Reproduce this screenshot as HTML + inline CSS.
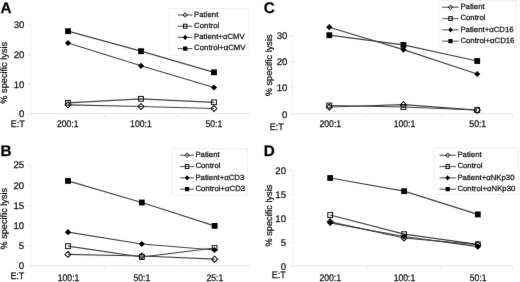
<!DOCTYPE html>
<html><head><meta charset="utf-8"><style>
html,body{margin:0;padding:0;background:#fff;width:520px;height:282px;overflow:hidden}
svg{display:block;font-family:"Liberation Sans", sans-serif;will-change:transform}
text{stroke:#111;stroke-width:0.25px;text-rendering:geometricPrecision}
</style></head><body>
<svg width="520" height="282" viewBox="0 0 520 282">
<defs><filter id="bl" x="0" y="0" width="520" height="282" filterUnits="userSpaceOnUse" color-interpolation-filters="sRGB"><feConvolveMatrix order="3" kernelMatrix="0.00276 0.04704 0.00276 0.04704 0.80077 0.04704 0.00276 0.04704 0.00276" edgeMode="none"/></filter></defs>
<rect width="520" height="282" fill="#fff"/>
<g filter="url(#bl)">
<g><text x="0.6" y="12.7" font-size="15.3" font-weight="bold" fill="#000">A</text><line x1="31" y1="24.5" x2="31" y2="113.5" stroke="#efefef" stroke-width="1"/><line x1="31" y1="113.5" x2="248.7" y2="113.5" stroke="#e9e9e9" stroke-width="1"/><line x1="27.5" y1="25.0" x2="31" y2="25.0" stroke="#e9e9e9" stroke-width="1"/><text transform="translate(24.40,28.34) scale(1.0,1)" font-size="9.6" text-anchor="end" fill="#111">30</text><line x1="27.5" y1="54.6" x2="31" y2="54.6" stroke="#e9e9e9" stroke-width="1"/><text transform="translate(24.40,57.94) scale(1.0,1)" font-size="9.6" text-anchor="end" fill="#111">20</text><line x1="27.5" y1="84.2" x2="31" y2="84.2" stroke="#e9e9e9" stroke-width="1"/><text transform="translate(24.40,87.54) scale(1.0,1)" font-size="9.6" text-anchor="end" fill="#111">10</text><line x1="27.5" y1="113.9" x2="31" y2="113.9" stroke="#e9e9e9" stroke-width="1"/><text transform="translate(24.40,117.24) scale(1.0,1)" font-size="9.6" text-anchor="end" fill="#111">0</text><line x1="31.5" y1="113.5" x2="31.5" y2="116.5" stroke="#e9e9e9" stroke-width="1"/><line x1="104.5" y1="113.5" x2="104.5" y2="116.5" stroke="#e9e9e9" stroke-width="1"/><line x1="177.5" y1="113.5" x2="177.5" y2="116.5" stroke="#e9e9e9" stroke-width="1"/><line x1="248.7" y1="113.5" x2="248.7" y2="116.5" stroke="#e9e9e9" stroke-width="1"/><text transform="translate(67.75,126.70) scale(0.9,1)" font-size="9.6" text-anchor="middle" fill="#111">200:1</text><text transform="translate(140.90,126.70) scale(0.9,1)" font-size="9.6" text-anchor="middle" fill="#111">100:1</text><text transform="translate(213.90,126.70) scale(0.9,1)" font-size="9.6" text-anchor="middle" fill="#111">50:1</text><text transform="translate(10.70,126.60) scale(0.93,1)" font-size="9.6" text-anchor="start" fill="#111">E:T</text><text transform="translate(7.3,72.75) rotate(-90)" font-size="9.2" text-anchor="middle" fill="#111">% specific lysis</text><rect x="169.3" y="8.5" width="79.1" height="46.7" fill="#fff" stroke="#f0f0f0" stroke-width="1"/><line x1="177.8" y1="15.0" x2="192.4" y2="15.0" stroke="#666" stroke-width="1.2"/><polygon points="185.2,12.64 187.36,15.0 185.2,17.36 183.04,15.0" fill="none" stroke="#111" stroke-width="0.9"/><text transform="translate(194.1,16.7) scale(1.025,1)" font-size="7.6" fill="#111">Patient</text><line x1="177.8" y1="26.2" x2="192.4" y2="26.2" stroke="#666" stroke-width="1.2"/><rect x="183.50" y="24.20" width="3.40" height="4.00" fill="none" stroke="#111" stroke-width="1.0"/><text transform="translate(194.1,27.9) scale(1.025,1)" font-size="7.6" fill="#111">Control</text><line x1="177.8" y1="37.4" x2="192.4" y2="37.4" stroke="#666" stroke-width="1.2"/><polygon points="185.2,34.80 187.50,37.4 185.2,40.00 182.90,37.4" fill="#000"/><text transform="translate(194.1,39.1) scale(1.025,1)" font-size="7.6" fill="#111">Patient+αCMV</text><line x1="177.8" y1="48.6" x2="192.4" y2="48.6" stroke="#666" stroke-width="1.2"/><rect x="183.10" y="46.50" width="4.20" height="4.20" fill="#000"/><text transform="translate(194.1,50.3) scale(1.025,1)" font-size="7.6" fill="#111">Control+αCMV</text><polyline points="68,104.8 141,106.5 214,108.5" fill="none" stroke="#444" stroke-width="1.2"/><polygon points="68,101.83 70.97,104.8 68,107.77 65.03,104.8" fill="none" stroke="#111" stroke-width="1.05"/><polygon points="141,103.53 143.97,106.5 141,109.47 138.03,106.5" fill="none" stroke="#111" stroke-width="1.05"/><polygon points="214,105.53 216.97,108.5 214,111.47 211.03,108.5" fill="none" stroke="#111" stroke-width="1.05"/><polyline points="68,102.8 141,98.8 214,102.3" fill="none" stroke="#444" stroke-width="1.2"/><rect x="65.60" y="100.40" width="4.80" height="4.80" fill="none" stroke="#111" stroke-width="1.0"/><rect x="138.60" y="96.40" width="4.80" height="4.80" fill="none" stroke="#111" stroke-width="1.0"/><rect x="211.60" y="99.90" width="4.80" height="4.80" fill="none" stroke="#111" stroke-width="1.0"/><polyline points="68,43 141,65.8 214,87.5" fill="none" stroke="#444" stroke-width="1.2"/><polygon points="68,39.90 71.10,43 68,46.10 64.90,43" fill="#000"/><polygon points="141,62.70 144.10,65.8 141,68.90 137.90,65.8" fill="#000"/><polygon points="214,84.40 217.10,87.5 214,90.60 210.90,87.5" fill="#000"/><polyline points="68,31.2 141,51.2 214,72.3" fill="none" stroke="#444" stroke-width="1.2"/><rect x="65.10" y="28.30" width="5.80" height="5.80" fill="#000"/><rect x="138.10" y="48.30" width="5.80" height="5.80" fill="#000"/><rect x="211.10" y="69.40" width="5.80" height="5.80" fill="#000"/></g>
<g><text x="263.7" y="13.0" font-size="15.3" font-weight="bold" fill="#000">C</text><line x1="292.6" y1="35.5" x2="292.6" y2="113.6" stroke="#efefef" stroke-width="1"/><line x1="292.6" y1="113.6" x2="512.5" y2="113.6" stroke="#e9e9e9" stroke-width="1"/><line x1="289.1" y1="35.7" x2="292.6" y2="35.7" stroke="#e9e9e9" stroke-width="1"/><text transform="translate(287.30,39.04) scale(1.0,1)" font-size="9.6" text-anchor="end" fill="#111">30</text><line x1="289.1" y1="61.8" x2="292.6" y2="61.8" stroke="#e9e9e9" stroke-width="1"/><text transform="translate(287.30,65.14) scale(1.0,1)" font-size="9.6" text-anchor="end" fill="#111">20</text><line x1="289.1" y1="87.7" x2="292.6" y2="87.7" stroke="#e9e9e9" stroke-width="1"/><text transform="translate(287.30,91.04) scale(1.0,1)" font-size="9.6" text-anchor="end" fill="#111">10</text><line x1="289.1" y1="114.3" x2="292.6" y2="114.3" stroke="#e9e9e9" stroke-width="1"/><text transform="translate(287.30,117.64) scale(1.0,1)" font-size="9.6" text-anchor="end" fill="#111">0</text><line x1="292.2" y1="113.6" x2="292.2" y2="116.6" stroke="#e9e9e9" stroke-width="1"/><line x1="366.3" y1="113.6" x2="366.3" y2="116.6" stroke="#e9e9e9" stroke-width="1"/><line x1="440.4" y1="113.6" x2="440.4" y2="116.6" stroke="#e9e9e9" stroke-width="1"/><line x1="512.5" y1="113.6" x2="512.5" y2="116.6" stroke="#e9e9e9" stroke-width="1"/><text transform="translate(330.30,126.70) scale(0.9,1)" font-size="9.6" text-anchor="middle" fill="#111">200:1</text><text transform="translate(404.50,126.70) scale(0.9,1)" font-size="9.6" text-anchor="middle" fill="#111">100:1</text><text transform="translate(477.75,126.70) scale(0.9,1)" font-size="9.6" text-anchor="middle" fill="#111">50:1</text><text transform="translate(269.70,129.70) scale(0.93,1)" font-size="9.6" text-anchor="start" fill="#111">E:T</text><text transform="translate(271.8,65.35) rotate(-90)" font-size="9.2" text-anchor="middle" fill="#111">% specific lysis</text><rect x="438.9" y="0.5" width="77.70000000000005" height="46.6" fill="#fff" stroke="#f0f0f0" stroke-width="1"/><line x1="442.2" y1="7.25" x2="458.6" y2="7.25" stroke="#666" stroke-width="1.2"/><polygon points="450.5,4.89 452.66,7.25 450.5,9.61 448.34,7.25" fill="none" stroke="#111" stroke-width="0.9"/><text transform="translate(460.4,9.0) scale(1.025,1)" font-size="7.6" fill="#111">Patient</text><line x1="442.2" y1="18.55" x2="458.6" y2="18.55" stroke="#666" stroke-width="1.2"/><rect x="448.80" y="16.55" width="3.40" height="4.00" fill="none" stroke="#111" stroke-width="1.0"/><text transform="translate(460.4,20.3) scale(1.025,1)" font-size="7.6" fill="#111">Control</text><line x1="442.2" y1="29.85" x2="458.6" y2="29.85" stroke="#666" stroke-width="1.2"/><polygon points="450.5,27.25 452.80,29.85 450.5,32.45 448.20,29.85" fill="#000"/><text transform="translate(460.4,31.6) scale(1.025,1)" font-size="7.6" fill="#111">Patient+αCD16</text><line x1="442.2" y1="41.15" x2="458.6" y2="41.15" stroke="#666" stroke-width="1.2"/><rect x="448.40" y="39.05" width="4.20" height="4.20" fill="#000"/><text transform="translate(460.4,42.9) scale(1.025,1)" font-size="7.6" fill="#111">Control+αCD16</text><polyline points="329.3,107.0 403.4,104.7 477.2,110.2" fill="none" stroke="#444" stroke-width="1.2"/><polygon points="329.3,104.03 332.27,107.0 329.3,109.97 326.33,107.0" fill="none" stroke="#111" stroke-width="1.05"/><polygon points="403.4,101.73 406.37,104.7 403.4,107.67 400.43,104.7" fill="none" stroke="#111" stroke-width="1.05"/><polygon points="477.2,107.23 480.17,110.2 477.2,113.17 474.23,110.2" fill="none" stroke="#111" stroke-width="1.05"/><polyline points="329.3,105.5 403.4,107.0 477.2,110" fill="none" stroke="#444" stroke-width="1.2"/><rect x="326.90" y="103.10" width="4.80" height="4.80" fill="none" stroke="#111" stroke-width="1.0"/><rect x="401.00" y="104.60" width="4.80" height="4.80" fill="none" stroke="#111" stroke-width="1.0"/><rect x="474.80" y="107.60" width="4.80" height="4.80" fill="none" stroke="#111" stroke-width="1.0"/><polyline points="329.3,27.2 403.4,49.6 477.2,74" fill="none" stroke="#444" stroke-width="1.2"/><polygon points="329.3,24.10 332.40,27.2 329.3,30.30 326.20,27.2" fill="#000"/><polygon points="403.4,46.50 406.50,49.6 403.4,52.70 400.30,49.6" fill="#000"/><polygon points="477.2,70.90 480.30,74 477.2,77.10 474.10,74" fill="#000"/><polyline points="329.3,35.2 403.4,44.9 477.2,61" fill="none" stroke="#444" stroke-width="1.2"/><rect x="326.40" y="32.30" width="5.80" height="5.80" fill="#000"/><rect x="400.50" y="42.00" width="5.80" height="5.80" fill="#000"/><rect x="474.30" y="58.10" width="5.80" height="5.80" fill="#000"/></g>
<g><text x="0.4" y="155.9" font-size="15.3" font-weight="bold" fill="#000">B</text><line x1="30.8" y1="165.2" x2="30.8" y2="265.6" stroke="#efefef" stroke-width="1"/><line x1="30.8" y1="265.6" x2="248.7" y2="265.6" stroke="#e9e9e9" stroke-width="1"/><line x1="27.3" y1="165.1" x2="30.8" y2="165.1" stroke="#e9e9e9" stroke-width="1"/><text transform="translate(24.10,168.44) scale(1.0,1)" font-size="9.6" text-anchor="end" fill="#111">25</text><line x1="27.3" y1="185.3" x2="30.8" y2="185.3" stroke="#e9e9e9" stroke-width="1"/><text transform="translate(24.10,188.64) scale(1.0,1)" font-size="9.6" text-anchor="end" fill="#111">20</text><line x1="27.3" y1="205.6" x2="30.8" y2="205.6" stroke="#e9e9e9" stroke-width="1"/><text transform="translate(24.10,208.94) scale(1.0,1)" font-size="9.6" text-anchor="end" fill="#111">15</text><line x1="27.3" y1="225.5" x2="30.8" y2="225.5" stroke="#e9e9e9" stroke-width="1"/><text transform="translate(24.10,228.84) scale(1.0,1)" font-size="9.6" text-anchor="end" fill="#111">10</text><line x1="27.3" y1="245.7" x2="30.8" y2="245.7" stroke="#e9e9e9" stroke-width="1"/><text transform="translate(24.10,249.04) scale(1.0,1)" font-size="9.6" text-anchor="end" fill="#111">5</text><line x1="27.3" y1="265.9" x2="30.8" y2="265.9" stroke="#e9e9e9" stroke-width="1"/><text transform="translate(24.10,269.24) scale(1.0,1)" font-size="9.6" text-anchor="end" fill="#111">0</text><line x1="31.1" y1="265.6" x2="31.1" y2="268.6" stroke="#e9e9e9" stroke-width="1"/><line x1="104.9" y1="265.6" x2="104.9" y2="268.6" stroke="#e9e9e9" stroke-width="1"/><line x1="178.7" y1="265.6" x2="178.7" y2="268.6" stroke="#e9e9e9" stroke-width="1"/><line x1="248.7" y1="265.6" x2="248.7" y2="268.6" stroke="#e9e9e9" stroke-width="1"/><text transform="translate(68.55,280.60) scale(0.9,1)" font-size="9.6" text-anchor="middle" fill="#111">100:1</text><text transform="translate(141.90,280.60) scale(0.9,1)" font-size="9.6" text-anchor="middle" fill="#111">50:1</text><text transform="translate(214.90,280.60) scale(0.9,1)" font-size="9.6" text-anchor="middle" fill="#111">25:1</text><text transform="translate(10.40,278.70) scale(0.93,1)" font-size="9.6" text-anchor="start" fill="#111">E:T</text><text transform="translate(7.1,218.7) rotate(-90)" font-size="9.2" text-anchor="middle" fill="#111">% specific lysis</text><rect x="172.1" y="148.5" width="75.5" height="46.5" fill="#fff" stroke="#f0f0f0" stroke-width="1"/><line x1="180.2" y1="155.25" x2="194.0" y2="155.25" stroke="#666" stroke-width="1.2"/><polygon points="187.1,152.89 189.26,155.25 187.1,157.61 184.94,155.25" fill="none" stroke="#111" stroke-width="0.9"/><text transform="translate(195.4,157) scale(1.025,1)" font-size="7.6" fill="#111">Patient</text><line x1="180.2" y1="166.55" x2="194.0" y2="166.55" stroke="#666" stroke-width="1.2"/><rect x="185.40" y="164.55" width="3.40" height="4.00" fill="none" stroke="#111" stroke-width="1.0"/><text transform="translate(195.4,168.3) scale(1.025,1)" font-size="7.6" fill="#111">Control</text><line x1="180.2" y1="177.85" x2="194.0" y2="177.85" stroke="#666" stroke-width="1.2"/><polygon points="187.1,175.25 189.40,177.85 187.1,180.45 184.80,177.85" fill="#000"/><text transform="translate(195.4,179.6) scale(1.025,1)" font-size="7.6" fill="#111">Patient+αCD3</text><line x1="180.2" y1="189.15" x2="194.0" y2="189.15" stroke="#666" stroke-width="1.2"/><rect x="185.00" y="187.05" width="4.20" height="4.20" fill="#000"/><text transform="translate(195.4,190.9) scale(1.025,1)" font-size="7.6" fill="#111">Control+αCD3</text><polyline points="68,254.4 141.8,256.0 214.6,259.2" fill="none" stroke="#444" stroke-width="1.2"/><polygon points="68,251.43 70.97,254.4 68,257.37 65.03,254.4" fill="none" stroke="#111" stroke-width="1.05"/><polygon points="141.8,253.03 144.77,256.0 141.8,258.97 138.83,256.0" fill="none" stroke="#111" stroke-width="1.05"/><polygon points="214.6,256.23 217.57,259.2 214.6,262.17 211.63,259.2" fill="none" stroke="#111" stroke-width="1.05"/><polyline points="68,246.2 141.8,257.0 214.6,248" fill="none" stroke="#444" stroke-width="1.2"/><rect x="65.60" y="243.80" width="4.80" height="4.80" fill="none" stroke="#111" stroke-width="1.0"/><rect x="139.40" y="254.60" width="4.80" height="4.80" fill="none" stroke="#111" stroke-width="1.0"/><rect x="212.20" y="245.60" width="4.80" height="4.80" fill="none" stroke="#111" stroke-width="1.0"/><polyline points="68,232.2 141.8,244 214.6,250" fill="none" stroke="#444" stroke-width="1.2"/><polygon points="68,229.10 71.10,232.2 68,235.30 64.90,232.2" fill="#000"/><polygon points="141.8,240.90 144.90,244 141.8,247.10 138.70,244" fill="#000"/><polygon points="214.6,246.90 217.70,250 214.6,253.10 211.50,250" fill="#000"/><polyline points="68,180.9 141.8,202.5 214.6,225.9" fill="none" stroke="#444" stroke-width="1.2"/><rect x="65.10" y="178.00" width="5.80" height="5.80" fill="#000"/><rect x="138.90" y="199.60" width="5.80" height="5.80" fill="#000"/><rect x="211.70" y="223.00" width="5.80" height="5.80" fill="#000"/></g>
<g><text x="263.8" y="155.9" font-size="15.3" font-weight="bold" fill="#000">D</text><line x1="292.8" y1="170.4" x2="292.8" y2="265.6" stroke="#efefef" stroke-width="1"/><line x1="292.8" y1="265.6" x2="512.5" y2="265.6" stroke="#e9e9e9" stroke-width="1"/><line x1="289.3" y1="170.5" x2="292.8" y2="170.5" stroke="#e9e9e9" stroke-width="1"/><text transform="translate(286.00,173.84) scale(1.0,1)" font-size="9.6" text-anchor="end" fill="#111">20</text><line x1="289.3" y1="194.6" x2="292.8" y2="194.6" stroke="#e9e9e9" stroke-width="1"/><text transform="translate(286.00,197.94) scale(1.0,1)" font-size="9.6" text-anchor="end" fill="#111">15</text><line x1="289.3" y1="218.4" x2="292.8" y2="218.4" stroke="#e9e9e9" stroke-width="1"/><text transform="translate(286.00,221.74) scale(1.0,1)" font-size="9.6" text-anchor="end" fill="#111">10</text><line x1="289.3" y1="242.7" x2="292.8" y2="242.7" stroke="#e9e9e9" stroke-width="1"/><text transform="translate(286.00,246.04) scale(1.0,1)" font-size="9.6" text-anchor="end" fill="#111">5</text><line x1="289.3" y1="266.2" x2="292.8" y2="266.2" stroke="#e9e9e9" stroke-width="1"/><text transform="translate(286.00,269.54) scale(1.0,1)" font-size="9.6" text-anchor="end" fill="#111">0</text><line x1="293.2" y1="265.6" x2="293.2" y2="268.6" stroke="#e9e9e9" stroke-width="1"/><line x1="367.2" y1="265.6" x2="367.2" y2="268.6" stroke="#e9e9e9" stroke-width="1"/><line x1="441.1" y1="265.6" x2="441.1" y2="268.6" stroke="#e9e9e9" stroke-width="1"/><line x1="512.5" y1="265.6" x2="512.5" y2="268.6" stroke="#e9e9e9" stroke-width="1"/><text transform="translate(330.20,280.70) scale(0.9,1)" font-size="9.6" text-anchor="middle" fill="#111">200:1</text><text transform="translate(404.50,280.70) scale(0.9,1)" font-size="9.6" text-anchor="middle" fill="#111">100:1</text><text transform="translate(478.10,280.70) scale(0.9,1)" font-size="9.6" text-anchor="middle" fill="#111">50:1</text><text transform="translate(271.70,278.10) scale(0.93,1)" font-size="9.6" text-anchor="start" fill="#111">E:T</text><text transform="translate(271.7,215.55) rotate(-90)" font-size="9.2" text-anchor="middle" fill="#111">% specific lysis</text><rect x="433.9" y="148.2" width="84.30000000000007" height="46.30000000000001" fill="#fff" stroke="#f0f0f0" stroke-width="1"/><line x1="439.5" y1="155.25" x2="455.9" y2="155.25" stroke="#666" stroke-width="1.2"/><polygon points="447.7,152.89 449.86,155.25 447.7,157.61 445.54,155.25" fill="none" stroke="#111" stroke-width="0.9"/><text transform="translate(457.4,157) scale(1.025,1)" font-size="7.6" fill="#111">Patient</text><line x1="439.5" y1="166.55" x2="455.9" y2="166.55" stroke="#666" stroke-width="1.2"/><rect x="446.00" y="164.55" width="3.40" height="4.00" fill="none" stroke="#111" stroke-width="1.0"/><text transform="translate(457.4,168.3) scale(1.025,1)" font-size="7.6" fill="#111">Control</text><line x1="439.5" y1="177.85" x2="455.9" y2="177.85" stroke="#666" stroke-width="1.2"/><polygon points="447.7,175.25 450.00,177.85 447.7,180.45 445.40,177.85" fill="#000"/><text transform="translate(457.4,179.6) scale(1.025,1)" font-size="7.6" fill="#111">Patient+αNKp30</text><line x1="439.5" y1="189.15" x2="455.9" y2="189.15" stroke="#666" stroke-width="1.2"/><rect x="445.60" y="187.05" width="4.20" height="4.20" fill="#000"/><text transform="translate(457.4,190.9) scale(1.025,1)" font-size="7.6" fill="#111">Control+αNKp30</text><polyline points="330.2,221.8 404.1,238.0 477.8,244.6" fill="none" stroke="#444" stroke-width="1.2"/><polygon points="330.2,218.83 333.17,221.8 330.2,224.77 327.23,221.8" fill="none" stroke="#111" stroke-width="1.05"/><polygon points="404.1,235.03 407.07,238.0 404.1,240.97 401.13,238.0" fill="none" stroke="#111" stroke-width="1.05"/><polygon points="477.8,241.63 480.77,244.6 477.8,247.57 474.83,244.6" fill="none" stroke="#111" stroke-width="1.05"/><polyline points="330.2,215 404.1,234.2 477.8,244.3" fill="none" stroke="#444" stroke-width="1.2"/><rect x="327.80" y="212.60" width="4.80" height="4.80" fill="none" stroke="#111" stroke-width="1.0"/><rect x="401.70" y="231.80" width="4.80" height="4.80" fill="none" stroke="#111" stroke-width="1.0"/><rect x="475.40" y="241.90" width="4.80" height="4.80" fill="none" stroke="#111" stroke-width="1.0"/><polyline points="330.2,222.8 404.1,236.5 477.8,246.7" fill="none" stroke="#444" stroke-width="1.2"/><polygon points="330.2,219.70 333.30,222.8 330.2,225.90 327.10,222.8" fill="#000"/><polygon points="404.1,233.40 407.20,236.5 404.1,239.60 401.00,236.5" fill="#000"/><polygon points="477.8,243.60 480.90,246.7 477.8,249.80 474.70,246.7" fill="#000"/><polyline points="330.2,178 404.1,191.2 477.8,214.4" fill="none" stroke="#444" stroke-width="1.2"/><rect x="327.30" y="175.10" width="5.80" height="5.80" fill="#000"/><rect x="401.20" y="188.30" width="5.80" height="5.80" fill="#000"/><rect x="474.90" y="211.50" width="5.80" height="5.80" fill="#000"/></g>
</g>
</svg>
</body></html>
